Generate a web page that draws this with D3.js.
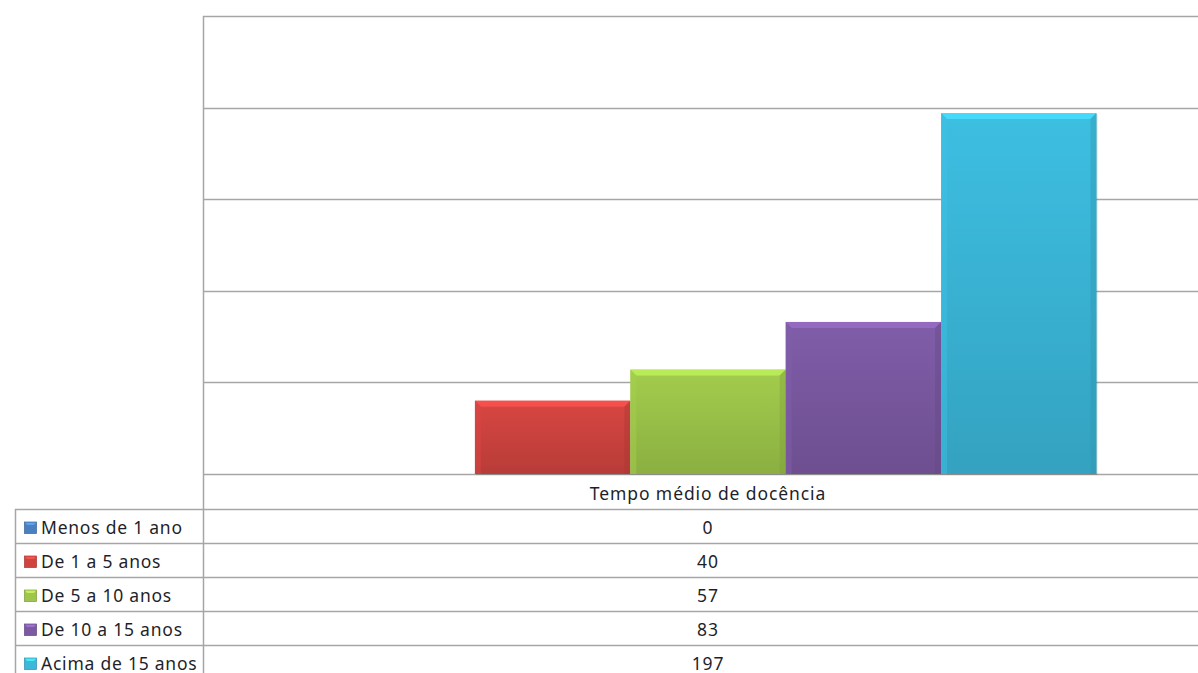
<!DOCTYPE html>
<html><head><meta charset="utf-8">
<script src="https://cdn.jsdelivr.net/npm/d3@7/dist/d3.min.js"></script>
<style>body{margin:0;background:#fff;overflow:hidden}svg{display:block}</style>
</head><body>
<svg id="c" width="1198" height="673"></svg>
<script>
const category = "Tempo médio de docência";
const seriesNames = ["Menos de 1 ano","De 1 a 5 anos","De 5 a 10 anos","De 10 a 15 anos","Acima de 15 anos"];
const seriesValues = [0,40,57,83,197];
const seriesColors = ["#4a7fc0","#d04440","#9dc64a","#7c5aa3","#3bb8da"];
const yTicks = [0,50,100,150,200,250];

const svg = d3.select("#c");
const W = 1198, H = 673;
const plotL = 203, plotR = 1213, plotT = 16, plotB = 474;
const tableL = 15, rowH = 34;
const fontFam = "'Noto Sans', 'Open Sans', sans-serif";
const fs = 17.5, ls = 0.9;
const grid = "#a6a6a6";
const txt = "#1f1f2a";

const y = d3.scaleLinear().domain([0,250]).range([plotB, plotT]);
const xCat = d3.scaleBand().domain([category]).range([plotL, plotR]).paddingInner(0).paddingOuter(0);
// gap width 150% of one bar: bars take 5/(5+1.5) of category width
const nBars = seriesNames.length;
const barsW = xCat.bandwidth() * nBars / (nBars + 1.5);
const xSer = d3.scaleBand().domain(seriesNames)
  .range([xCat(category) + (xCat.bandwidth() - barsW) / 2, xCat(category) + (xCat.bandwidth() + barsW) / 2]);

const defs = svg.append("defs");
function shade(c, k){ return d3.color(c)[k > 0 ? "brighter" : "darker"](Math.abs(k)).formatHex(); }
seriesColors.forEach((c,i)=>{
  const g = defs.append("linearGradient").attr("id","g"+i).attr("x1",0).attr("x2",0).attr("y1",0).attr("y2",1);
  g.append("stop").attr("offset","0%").attr("stop-color",shade(c,0.1));
  g.append("stop").attr("offset","100%").attr("stop-color",shade(c,-0.35));
});

// gridlines
svg.append("g").selectAll("line").data(yTicks).join("line")
  .attr("x1",plotL).attr("x2",W).attr("y1",d=>Math.round(y(d))+0.5).attr("y2",d=>Math.round(y(d))+0.5)
  .attr("stroke",grid).attr("stroke-width",1.5);

// bars with bevel
const bars = svg.append("g");
seriesNames.forEach((s,i)=>{
  const v = seriesValues[i];
  if (v <= 0) return;
  const x0 = xSer(s), w = xSer.bandwidth(), yt = y(v), h = plotB - yt;
  const c = seriesColors[i];
  const b = 6;
  bars.append("rect").attr("x",x0+1).attr("y",yt+1).attr("width",w).attr("height",h).attr("fill","#000").attr("opacity",0.15);
  bars.append("rect").attr("x",x0).attr("y",yt).attr("width",w).attr("height",h).attr("fill",`url(#g${i})`);
  bars.append("polygon").attr("points",[[x0,yt],[x0+w,yt],[x0+w-b,yt+b],[x0+b,yt+b]].join(" "))
    .attr("fill",shade(c,0.55)).attr("opacity",0.8);
  bars.append("polygon").attr("points",[[x0,yt],[x0+b,yt+b],[x0+b,plotB],[x0,plotB]].join(" "))
    .attr("fill",shade(c,0.15)).attr("opacity",0.45);
  bars.append("polygon").attr("points",[[x0+w,yt],[x0+w-b,yt+b],[x0+w-b,plotB],[x0+w,plotB]].join(" "))
    .attr("fill",shade(c,-0.6)).attr("opacity",0.4);
});

// frame lines
const lines = svg.append("g").attr("stroke",grid).attr("stroke-width",1.5);
lines.append("line").attr("x1",plotL+0.5).attr("x2",plotL+0.5).attr("y1",plotT).attr("y2",H);
const rowTops = seriesNames.map((d,i)=>509 + i*rowH);
rowTops.forEach(t=>{
  lines.append("line").attr("x1",tableL).attr("x2",W).attr("y1",Math.round(t)+0.5).attr("y2",Math.round(t)+0.5);
});
lines.append("line").attr("x1",tableL+0.5).attr("x2",tableL+0.5).attr("y1",509).attr("y2",H);

const cx = xCat(category)+xCat.bandwidth()/2;
// category label
svg.append("text").attr("x",cx).attr("y",500)
  .attr("text-anchor","middle").attr("font-family",fontFam).attr("font-size",fs).attr("letter-spacing",ls)
  .attr("fill",txt).text(category);

// table rows
seriesNames.forEach((s,i)=>{
  const base = rowTops[i] + 24.5;
  const c = seriesColors[i];
  const my = base - 11.5;
  svg.append("rect").attr("x",24.5).attr("y",my).attr("width",12).attr("height",11.5).attr("fill",c).attr("stroke",shade(c,-0.7)).attr("stroke-width",0.7);
  svg.append("polygon").attr("points",[[25,my+0.5],[36,my+0.5],[34,my+3],[27,my+3]].join(" ")).attr("fill",shade(c,0.9)).attr("opacity",0.7);
  svg.append("text").attr("x",41).attr("y",base).attr("font-family",fontFam).attr("font-size",fs).attr("letter-spacing",ls*0.85)
    .attr("fill",txt).text(s);
  svg.append("text").attr("x",cx).attr("y",base).attr("text-anchor","middle")
    .attr("font-family",fontFam).attr("font-size",fs).attr("letter-spacing",ls).attr("fill",txt).text(seriesValues[i]);
});
</script>
</body></html>
